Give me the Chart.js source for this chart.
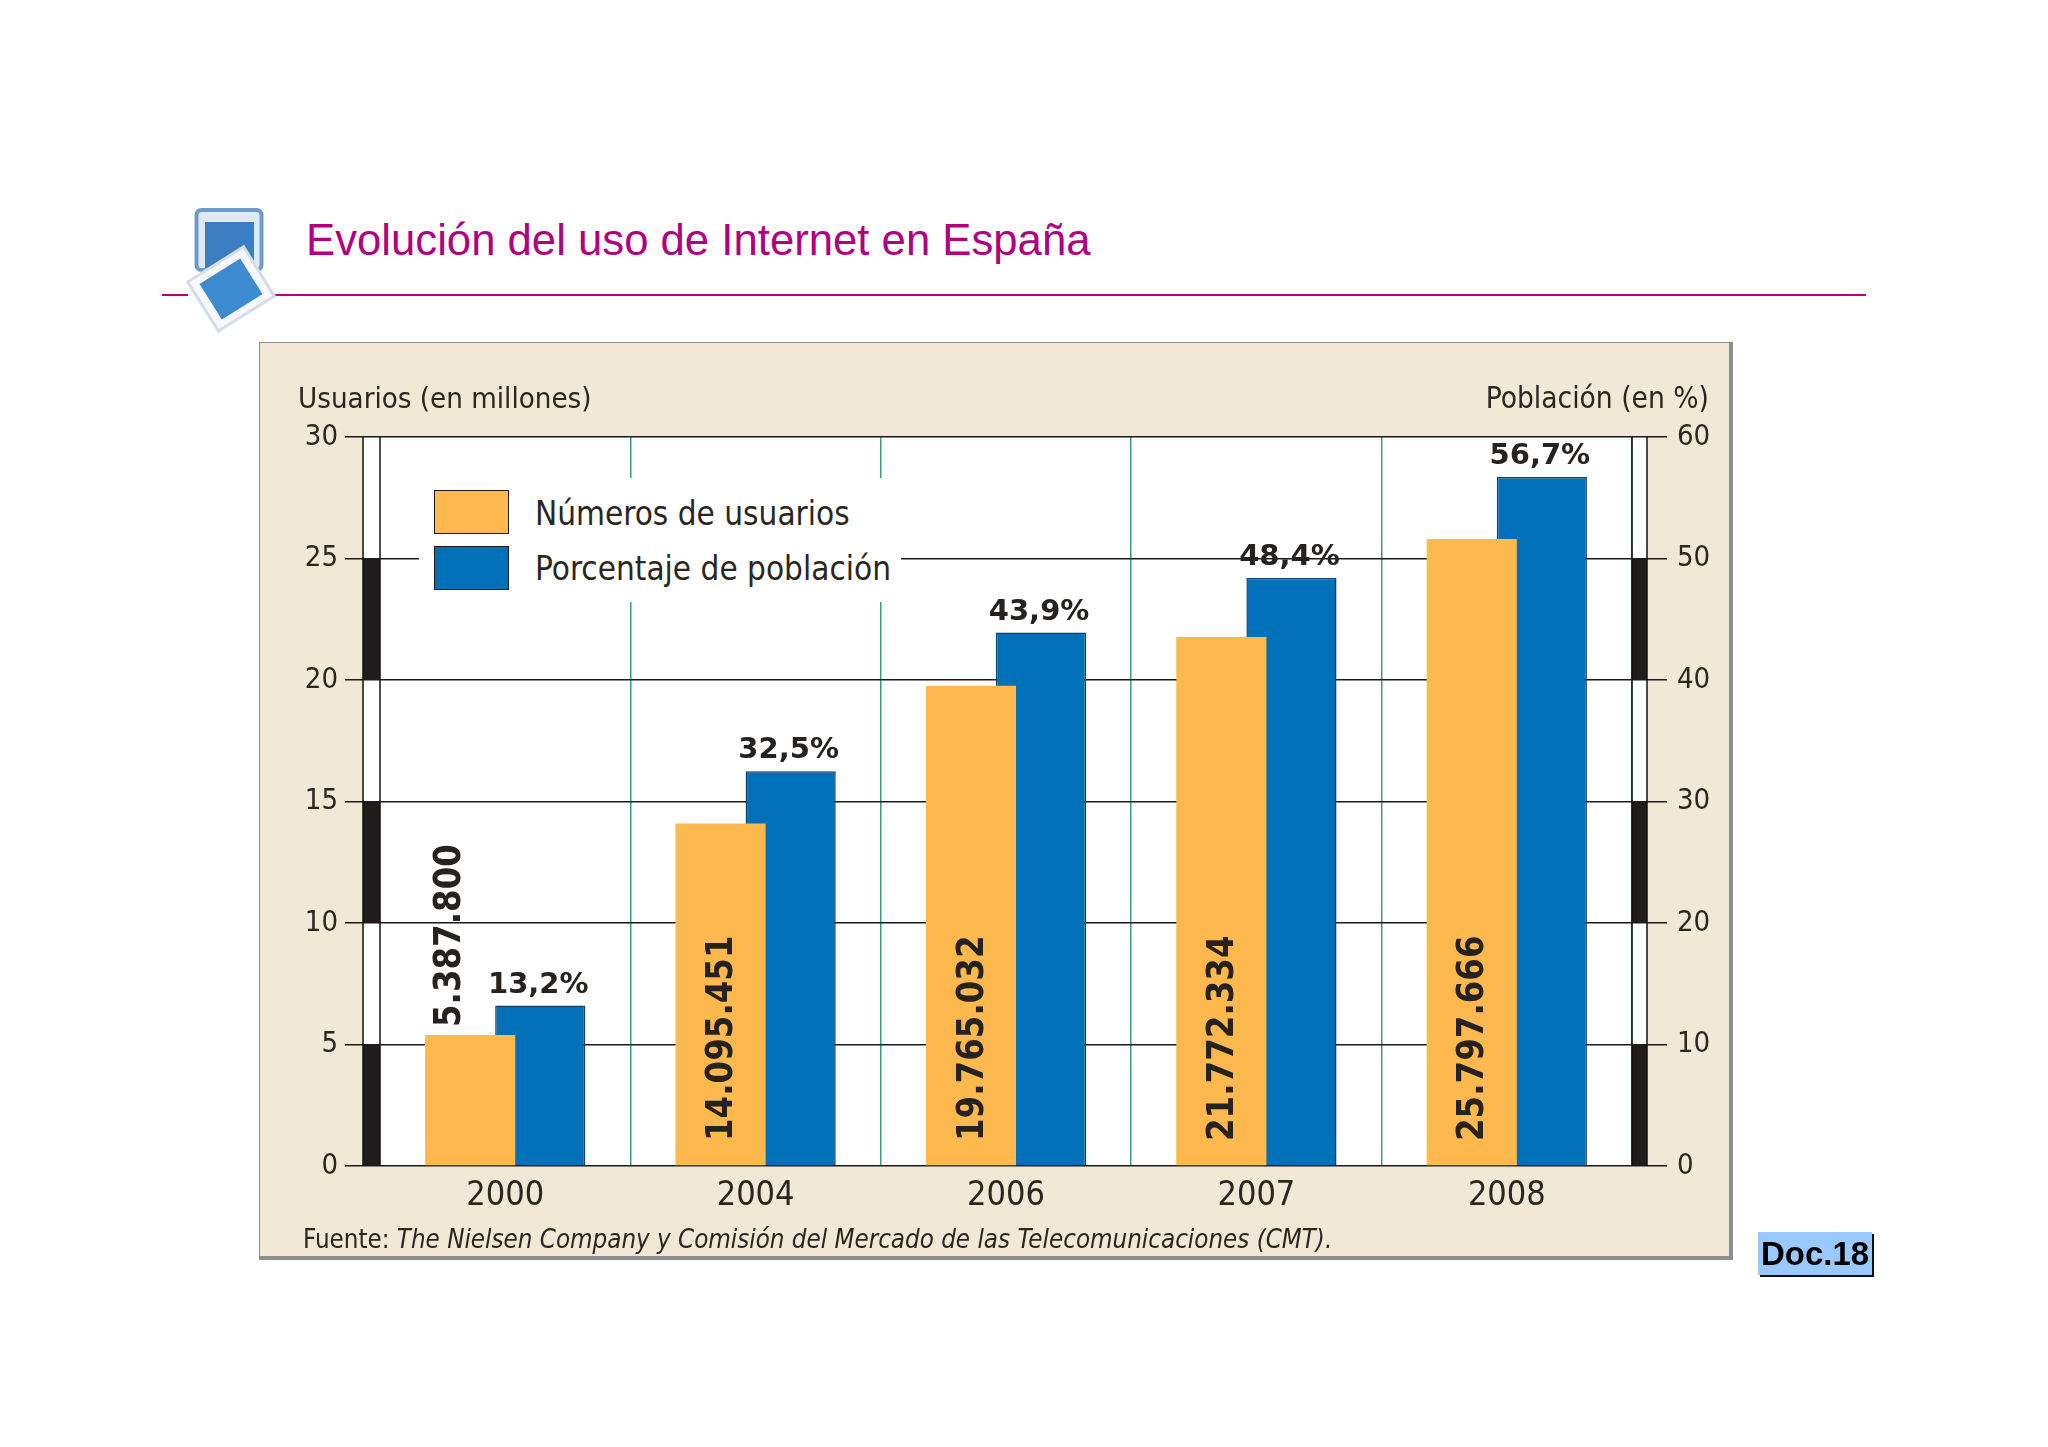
<!DOCTYPE html>
<html lang="es">
<head>
<meta charset="utf-8">
<title>Evolución del uso de Internet en España</title>
<script src="https://cdn.jsdelivr.net/npm/chart.js@4/dist/chart.umd.min.js"></script>
<style>
html, body { margin: 0; padding: 0; background: #fff; }
body { position: relative; width: 2048px; height: 1447px; overflow: hidden; }
.abs { position: absolute; white-space: nowrap; }
.cond { font-family: "DejaVu Sans Condensed", "DejaVu Sans", sans-serif; font-stretch: condensed; color: #2a2620; }
#panel { left: 259px; top: 342px; width: 1469px; height: 913px; background: #f1e9d6; border-left: 1px solid #8d8d85; border-top: 1px solid #8d8d85; border-right: 4px solid #8e8e8e; border-bottom: 4px solid #8e8e8e; }
#chart { position: absolute; left: 0; top: 0; }
#title { left: 306px; top: 215px; font: 43.7px "Liberation Sans", Arial, sans-serif; color: #b0007f; }
.rule { height: 2px; top: 294px; background: #b5007f; }
#legend { left: 419px; top: 478px; width: 482px; height: 124px; background: #fff; }
.swatch { position: absolute; left: 15px; width: 73px; height: 42px; border: 1.5px solid #1a1a1a; }
.leglabel { position: absolute; left: 116px; font-size: 33px; line-height: 40px; }
#doc { left: 1758px; top: 1232px; width: 114px; height: 43px; line-height: 43px; background: #99c9ff; box-shadow: 2px 2px 0 #111; font: bold 33px/43px "Liberation Sans", Arial, sans-serif; color: #000; text-align: center; }
</style>
</head>
<body>

<div class="abs" id="panel"></div>

<div class="abs rule" style="left:162px;width:26px"></div>
<div class="abs rule" style="left:274px;width:1592px"></div>
<div class="abs" id="title">Evolución del uso de Internet en España</div>

<!-- icono -->
<svg class="abs" style="left:180px;top:200px" width="110" height="140">
	<rect x="16.5" y="10" width="65" height="60" rx="5" fill="#dfe9f3" stroke="#6b9bc9" stroke-width="4"/>
	<rect x="25" y="22" width="49" height="46" fill="#3b7fc2"/>
	<g transform="translate(51 89) rotate(-32)">
		<rect x="-33" y="-29" width="66" height="58" fill="#f6f8fb" stroke="#d5dde6" stroke-width="3"/>
		<rect x="-24" y="-21" width="48" height="42" fill="#3d8bd0"/>
	</g>
</svg>

<canvas id="chart" width="2048" height="1447"></canvas>

<div class="abs cond" style="left:298px;top:381px;font-size:29.2px">Usuarios (en millones)</div>
<div class="abs cond" style="right:339px;top:381px;font-size:29.6px">Población (en %)</div>
<div class="abs cond" style="left:303px;top:1224px;font-size:25.7px">Fuente: <i>The Nielsen Company y Comisión del Mercado de las Telecomunicaciones (CMT).</i></div>

<div class="abs cond" id="legend">
	<div class="swatch" style="top:12px;background:#fdb84e"></div>
	<div class="leglabel" style="top:16px">Números de usuarios</div>
	<div class="swatch" style="top:68px;background:#0070b8"></div>
	<div class="leglabel" style="top:71px">Porcentaje de población</div>
</div>

<div class="abs" id="doc">Doc.18</div>

<script>
var years = ['2000','2004','2006','2007','2008'];
var usuarios = [5387800,14095451,19765032,21772334,25797666];
var poblacion = [13.2,32.5,43.9,48.4,56.7];
var usuariosTicks = [0,5,10,15,20,25,30];
var poblacionTicks = [0,10,20,30,40,50,60];
var bandas = [[0,5],[10,15],[20,25]];

var FONT = '"DejaVu Sans Condensed","DejaVu Sans",sans-serif';

function puntos(n){
	return String(n).replace(/\B(?=(\d{3})+(?!\d))/g,'.');
}

// barras negras a los dos lados y etiquetas de los valores
var extras = {
	id:'extras',
	beforeDraw:function(chart){
		var a = chart.chartArea, c = chart.ctx;
		c.save();
		c.fillStyle = '#fff';
		c.fillRect(a.left-16, a.top, a.right-a.left+31, a.bottom-a.top);
		c.restore();
	},
	afterDraw:function(chart){
		var a = chart.chartArea, c = chart.ctx, y = chart.scales.y;
		c.save();
		c.fillStyle = '#1f1c1b';
		bandas.forEach(function(b){
			var y0 = y.getPixelForValue(b[0]*1e6), y1 = y.getPixelForValue(b[1]*1e6);
			c.fillRect(a.left-17, y1, 17, y0-y1);
			c.fillRect(a.right, y1, 15, y0-y1);
		});
		c.strokeStyle = '#111';
		c.lineWidth = 1.5;
		[a.left-17, a.left, a.right, a.right+15].forEach(function(x){
			c.beginPath();
			c.moveTo(x, a.top);
			c.lineTo(x, a.bottom);
			c.stroke();
		});

		c.fillStyle = '#26221f';
		c.font = 'bold 29px "DejaVu Sans",sans-serif';
		c.textAlign = 'center';
		c.textBaseline = 'alphabetic';
		chart.getDatasetMeta(1).data.forEach(function(bar,i){
			c.fillText(poblacion[i].toFixed(1).replace('.',',')+'%', bar.x-2, bar.y-13);
		});

		c.font = 'bold 32.5px "DejaVu Sans",sans-serif';
		c.textAlign = 'left';
		c.textBaseline = 'middle';
		chart.getDatasetMeta(0).data.forEach(function(bar,i){
			var fuera = i === 0;
			c.save();
			c.translate(fuera ? bar.x-20 : bar.x+2, fuera ? bar.y-8 : a.bottom-25);
			c.rotate(-Math.PI/2);
			c.scale(1,1.15);
			c.fillText(puntos(usuarios[i]), 0, 0);
			c.restore();
		});
		c.restore();
	}
};

var ctx = document.getElementById('chart');

var myChart = new Chart(ctx, {
	type:'bar',
	plugins:[extras],
	data:{
		labels:years,
		datasets:[{
			label:'Números de usuarios',
			data:usuarios,
			yAxisID:'y',
			backgroundColor:'#fdb84e',
			borderWidth:0,
			categoryPercentage:0.56,
			barPercentage:1.2857
		},{
			label:'Porcentaje de población',
			data:poblacion,
			yAxisID:'y2',
			backgroundColor:'#0070b8',
			borderColor:'#123f6b',
			borderWidth:1.5,
			categoryPercentage:0.56,
			barPercentage:1.2857
		}]
	},
	options:{
		responsive:false,
		animation:false,
		layout:{padding:{top:437,left:0,right:0,bottom:0}},
		plugins:{
			legend:{display:false},
			title:{display:false},
			tooltip:{enabled:false}
		},
		scales:{
			x:{
				afterFit:function(s){ s.height = 281; },
				border:{display:false},
				grid:{
					drawTicks:false,
					offset:true,
					lineWidth:1.5,
					color:function(c){
						return (c.index === 0 || c.index === years.length) ? 'transparent' : '#3d9c80';
					}
				},
				ticks:{
					color:'#2a2620',
					padding:10,
					maxRotation:0,
					font:{family:FONT,size:34}
				}
			},
			y:{
				position:'left',
				min:0,
				max:30000000,
				afterFit:function(s){ s.width = 380; },
				afterBuildTicks:function(s){
					s.ticks = usuariosTicks.map(function(v){ return {value:v*1e6}; });
				},
				border:{display:false},
				grid:{color:'#1a1a1a',lineWidth:1.5,tickLength:35},
				ticks:{
					color:'#2a2620',
					padding:7,
					font:{family:FONT,size:29},
					callback:function(v){ return v/1e6; }
				}
			},
			y2:{
				position:'right',
				min:0,
				max:60,
				afterFit:function(s){ s.width = 416; },
				afterBuildTicks:function(s){
					s.ticks = poblacionTicks.map(function(v){ return {value:v}; });
				},
				border:{display:false},
				grid:{drawOnChartArea:false,color:'#1a1a1a',lineWidth:1.5,tickLength:35},
				ticks:{
					color:'#2a2620',
					padding:10,
					font:{family:FONT,size:29}
				}
			}
		}
	}
});
</script>
</body>
</html>
